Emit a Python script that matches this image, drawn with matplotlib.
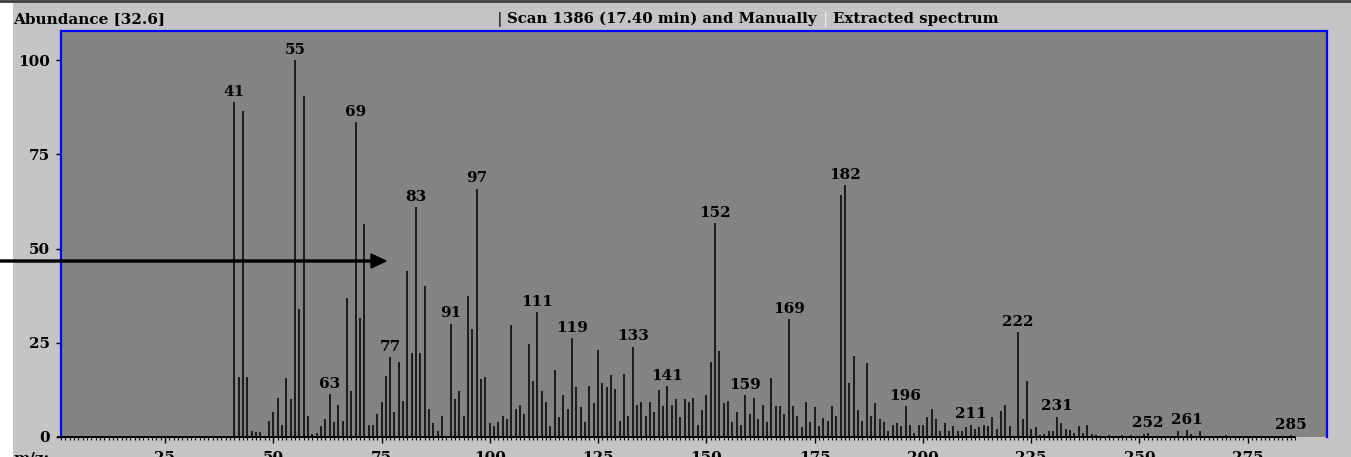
import matplotlib.pyplot as plt
from matplotlib.patches import FancyArrow, Rectangle
from matplotlib.lines import Line2D

# m/z values and relative abundance
mz = [41, 42, 43, 44, 45, 46, 47, 49, 50, 51, 52, 53, 54, 55, 56, 57, 58, 59, 60,
      61, 62, 63, 64, 65, 66, 67, 68, 69, 70, 71, 72, 73, 74, 75, 76, 77, 78, 79, 80,
      81, 82, 83, 84, 85, 86, 87, 88, 89, 91, 92, 93, 94, 95, 96, 97, 98, 99, 100,
      101, 102, 103, 104, 105, 106, 107, 108, 109, 110, 111, 112, 113, 114, 115, 116,
      117, 118, 119, 120, 121, 122, 123, 124, 125, 126, 127, 128, 129, 130, 131, 132,
      133, 134, 135, 136, 137, 138, 139, 140, 141, 142, 143, 144, 145, 146, 147, 148,
      149, 150, 151, 152, 153, 154, 155, 156, 157, 158, 159, 160, 161, 162, 163, 164,
      165, 166, 167, 168, 169, 170, 171, 172, 173, 174, 175, 176, 177, 178, 179, 180,
      181, 182, 183, 184, 185, 186, 187, 188, 189, 190, 191, 192, 193, 194, 195, 196,
      197, 198, 199, 200, 201, 202, 203, 204, 205, 206, 207, 208, 209, 210, 211, 212,
      213, 214, 215, 216, 217, 218, 219, 220, 222, 223, 224, 225, 226, 227, 228, 229,
      230, 231, 232, 233, 234, 235, 236, 237, 238, 239, 240, 243, 246, 248, 251, 252,
      259, 261, 262, 264, 270, 285]
abundance = [88.8, 16.0, 86.5, 16.0, 1.6, 1.2, 1.2, 4.3, 6.5, 10.3, 3.2, 15.6, 10.0, 100.0, 33.9, 90.5, 5.7, 0.7, 1.0,
             2.9, 4.7, 11.3, 4.0, 8.5, 4.3, 36.8, 12.1, 83.5, 31.5, 56.5, 3.2, 3.2, 6.1, 9.2, 16.3, 21.1, 6.5, 19.8, 9.6,
             44.1, 22.2, 60.9, 22.2, 40.1, 7.5, 3.6, 1.6, 5.7, 30.1, 10.0, 12.1, 5.7, 37.4, 28.6, 65.9, 15.3, 15.9, 3.6,
             2.9, 4.0, 5.7, 4.7, 29.6, 7.5, 8.6, 6.1, 24.8, 14.9, 33.2, 12.1, 9.3, 2.9, 17.8, 5.4,
             11.1, 7.5, 26.2, 13.2, 7.9, 4.0, 13.5, 8.9, 23.0, 14.2, 13.2, 16.4, 12.8, 4.3, 16.7, 5.7,
             24.0, 8.6, 9.3, 5.7, 9.3, 6.5, 12.5, 8.2, 13.4, 8.6, 10.0, 5.4, 10.0, 9.3, 10.3, 3.3,
             7.2, 11.1, 19.9, 56.7, 22.7, 8.9, 9.6, 4.0, 6.5, 3.3, 11.1, 6.1, 10.3, 4.7, 8.6, 4.0,
             15.6, 8.2, 8.2, 6.1, 31.3, 8.2, 5.7, 2.6, 9.3, 4.0, 7.9, 2.9, 5.0, 4.3, 8.2, 5.7,
             64.1, 66.9, 14.2, 21.6, 7.2, 4.3, 19.5, 5.7, 8.9, 4.7, 4.0, 1.5, 3.3, 3.6, 2.9, 8.2,
             3.3, 1.1, 3.3, 3.3, 5.4, 7.5, 4.7, 1.5, 3.6, 1.5, 2.9, 1.5, 1.5, 2.6, 3.3, 2.0,
             2.6, 3.3, 2.9, 5.4, 2.2, 6.8, 8.5, 2.9, 27.9, 4.7, 14.8, 2.2, 2.6, 0.4, 0.7, 1.5,
             1.5, 5.4, 3.6, 2.2, 1.9, 1.1, 2.9, 1.1, 3.3, 0.7, 0.4, 0.4, 0.4, 0.4, 0.7, 1.1,
             1.5, 1.9, 0.7, 1.5, 0.4, 0.4]
labeled = [41, 55, 63, 69, 77, 83, 91, 97, 111, 119, 133, 141, 152, 159, 169,
           182, 196, 211, 222, 231, 252, 261, 285]
x_ticks = [25, 50, 75, 100, 125, 150, 175, 200, 225, 250, 275]
y_ticks = [0, 25, 50, 75, 100]

W, H = 1351, 457
PANEL = '#c6c3c6'
PLOT_BG = '#858285'
BLUE = '#0000ff'

plt.rcParams['font.family'] = 'DejaVu Serif'
plt.rcParams['font.weight'] = 'bold'
plt.rcParams['font.size'] = 11

fig = plt.figure(figsize=(W / 100, H / 100), dpi=100, facecolor='white')
fig.add_artist(Rectangle((13 / W, 0), 1 - 13 / W, 1, transform=fig.transFigure,
                         facecolor=PANEL, edgecolor='none', zorder=-10))
fig.add_artist(Line2D([0, 1], [1 - 1 / H, 1 - 1 / H], transform=fig.transFigure,
                      color='#404040', linewidth=2, zorder=-5))

ax = fig.add_axes([61 / W, 20 / H, (1327 - 61) / W, (437 - 31) / H])
ax.set_facecolor(PLOT_BG)
ax.set_xlim(1.5, 293.3)
ax.set_ylim(0, 107.7)

ax.vlines(mz, 0, abundance, colors='black', linewidth=1.1)
for m in labeled:
    ax.annotate(str(m), (m, abundance[mz.index(m)]), xytext=(0, 4.5),
                textcoords='offset points', ha='center', va='baseline')

# baseline runs only over the scanned mass range
ax.plot([0.35, 286], [0, 0], color='black', linewidth=1.4, clip_on=False, zorder=3)

ax.spines['bottom'].set_visible(False)
for side in ['top', 'left', 'right']:
    ax.spines[side].set_color(BLUE)
    ax.spines[side].set_linewidth(1.6)

ax.set_xticks(x_ticks)
ax.set_xticks(range(1, 287), minor=True)
ax.set_yticks(y_ticks)
ax.tick_params(axis='x', which='major', length=4.5, width=1, pad=5.5, color='black')
ax.tick_params(axis='x', which='minor', length=2.5, width=0.8, color='black')
ax.tick_params(axis='y', which='major', length=3.6, width=1, pad=4.3, color='black')

fig.text(13 / W, 1 - 451 / H, 'm/z:', va='top')
fig.text(13 / W, 1 - 23 / H, 'Abundance [32.6]', va='baseline')
fig.text(497 / W, 1 - 23 / H, '|', va='baseline', color='#303030')
fig.text(507 / W, 1 - 23 / H, 'Scan 1386 (17.40 min) and Manually', va='baseline',
         fontsize=10.7)
fig.text(823 / W, 1 - 23 / H, '|', va='baseline', color='#ececec', fontweight='normal')
fig.text(833 / W, 1 - 23 / H, 'Extracted spectrum', va='baseline', fontsize=10.8)

arrow = FancyArrow(0, (H - 261) / 100, 3.86, 0, width=0.02, head_width=0.14,
                   head_length=0.15, length_includes_head=True, color='black',
                   transform=fig.dpi_scale_trans, zorder=5)
fig.add_artist(arrow)

plt.savefig('out.png', dpi=100)
